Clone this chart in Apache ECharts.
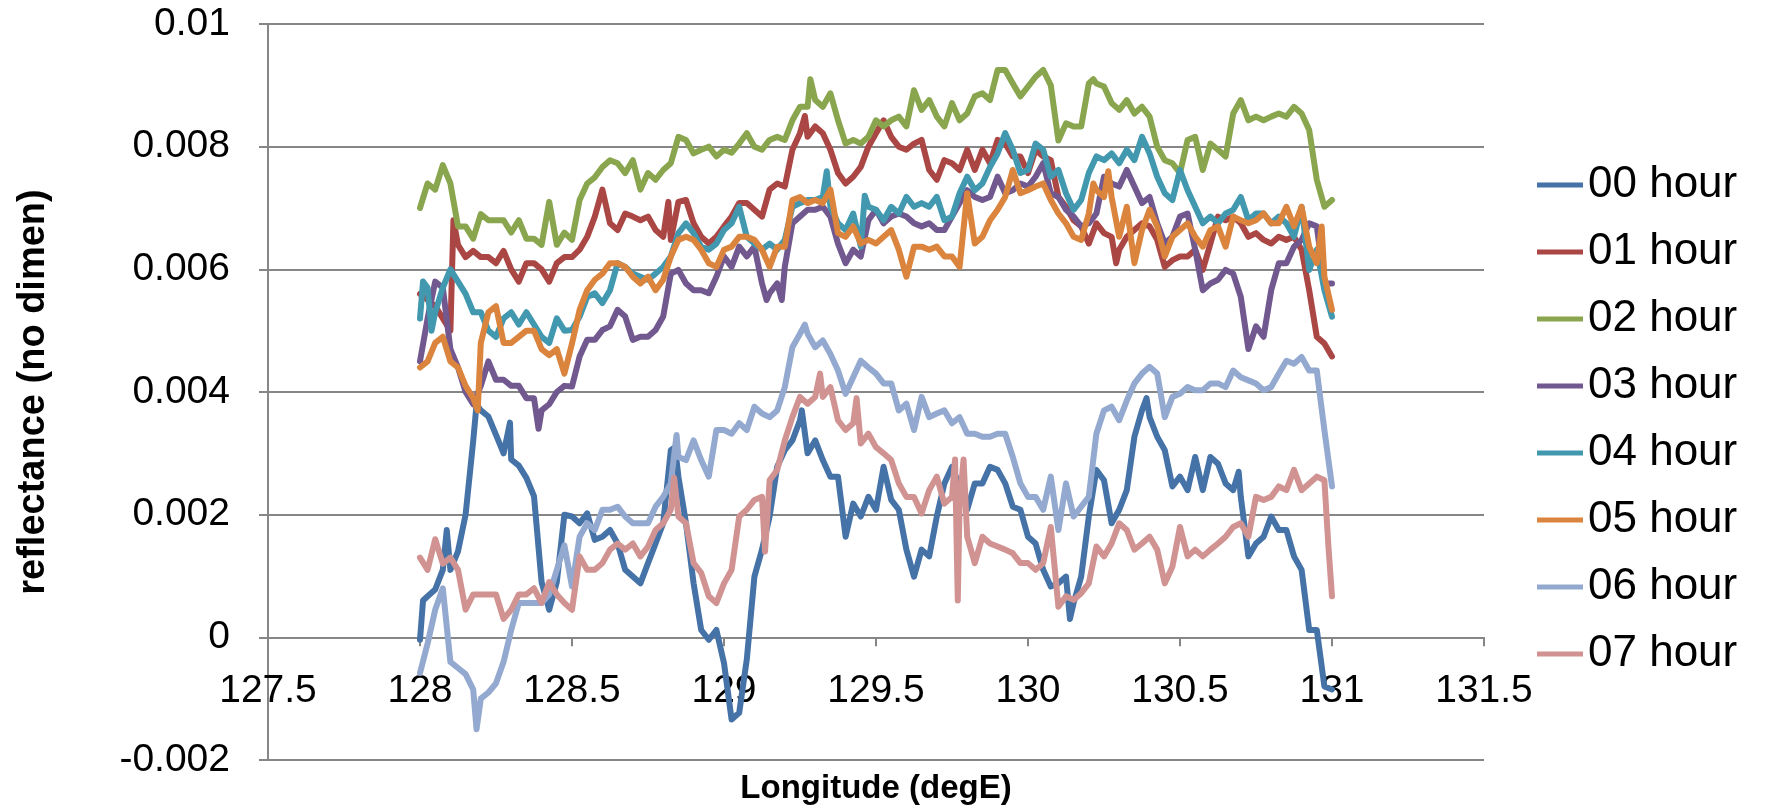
<!DOCTYPE html>
<html>
<head>
<meta charset="utf-8">
<script src="https://cdn.jsdelivr.net/npm/echarts@6/dist/echarts.min.js"></script>
<style>
  html, body { margin: 0; padding: 0; background: #ffffff; }
  #chart { width: 1785px; height: 812px; }
</style>
</head>
<body>
<div id="chart"></div>
<script>
// Sampling longitudes (degE) shared by every hourly track
const longitude = [
  128, 128.025, 128.05, 128.075, 128.1, 128.125, 128.15, 128.175, 128.2, 128.225,
  128.25, 128.275, 128.3, 128.325, 128.35, 128.375, 128.4, 128.425, 128.45, 128.475,
  128.5, 128.525, 128.55, 128.575, 128.6, 128.625, 128.65, 128.675, 128.7, 128.725,
  128.75, 128.775, 128.8, 128.825, 128.85, 128.875, 128.9, 128.925, 128.95, 128.975, 129,
  129.025, 129.05, 129.075, 129.1, 129.125, 129.15, 129.175, 129.2, 129.225, 129.25,
  129.275, 129.3, 129.325, 129.35, 129.375, 129.4, 129.425, 129.45, 129.475, 129.5, 129.525,
  129.55, 129.575, 129.6, 129.625, 129.65, 129.675, 129.7, 129.725, 129.75, 129.775,
  129.8, 129.825, 129.85, 129.875, 129.9, 129.925, 129.95, 129.975, 130, 130.025, 130.05,
  130.075, 130.1, 130.125, 130.15, 130.175, 130.2, 130.225, 130.25, 130.275, 130.3,
  130.325, 130.35, 130.375, 130.4, 130.425, 130.45, 130.475, 130.5, 130.525, 130.55, 130.575,
  130.6, 130.625, 130.65, 130.675, 130.7, 130.725, 130.75, 130.775, 130.8, 130.825,
  130.85, 130.875, 130.9, 130.925, 130.95, 130.975, 131
];

// Reflectance (no dimension) per hour, one value per longitude above
const hour00 = [
  -0.00004, 0.00067, 0.00078, 0.0011, 0.0011, 0.0014, 0.0020, 0.0032, 0.0037, 0.0036,
  0.0033, 0.0030, 0.0029, 0.0028, 0.0026, 0.0023, 0.0009, 0.00045, 0.0009, 0.0020,
  0.00197, 0.00186, 0.00202, 0.00159, 0.00164, 0.00175, 0.00153, 0.0011, 0.00099, 0.00088,
  0.00121, 0.00153, 0.00186, 0.00305, 0.00262, 0.00186, 0.00088, 0.00012, -0.00004, 0.00012, -0.00042,
  -0.00134, -0.00123, -0.00036, 0.00099, 0.00143, 0.00197, 0.00278, 0.00305, 0.00321, 0.00354,
  0.0030, 0.00321, 0.00289, 0.00262, 0.00262, 0.00164, 0.00218, 0.00197, 0.00229, 0.00208, 0.00278,
  0.00224, 0.00208, 0.00143, 0.00099, 0.00143, 0.00132, 0.00197, 0.00251, 0.00278, 0.00246,
  0.00208, 0.00251, 0.00251, 0.00278, 0.00273, 0.00251, 0.00213, 0.00208, 0.00164, 0.00153, 0.0011,
  0.00083, 0.00088, 0.00099, 0.00056, 0.00099, 0.00197, 0.00273, 0.00256, 0.00186, 0.00208,
  0.0024, 0.00327, 0.0037, 0.00359, 0.00327, 0.00305, 0.00246, 0.00262, 0.0024, 0.00294, 0.0024,
  0.00294, 0.00283, 0.00251, 0.0024, 0.00229, 0.00132, 0.00153, 0.00164, 0.00197, 0.00175,
  0.00175, 0.00132, 0.0011, 0.00012, 0.00012, -0.0008, -0.00085
];
const hour01 = [
  0.0056, 0.0055, 0.0054, 0.0052, 0.0050, 0.0064, 0.0062, 0.0063, 0.0062, 0.0062,
  0.0061, 0.0063, 0.0060, 0.0058, 0.0061, 0.0061, 0.0060, 0.0058, 0.0061, 0.0062,
  0.0062, 0.00632, 0.00653, 0.00686, 0.0073, 0.00675, 0.00664, 0.00691, 0.00686, 0.0068,
  0.00686, 0.00664, 0.00653, 0.00648, 0.0071, 0.00713, 0.00675, 0.00653, 0.00642, 0.00653, 0.0067,
  0.00686, 0.00708, 0.00708, 0.00697, 0.00686, 0.0073, 0.0074, 0.00735, 0.00795, 0.00822,
  0.00816, 0.00833, 0.00822, 0.00795, 0.00757, 0.0074, 0.00751, 0.00767, 0.008, 0.00822, 0.00843,
  0.00816, 0.008, 0.00795, 0.00805, 0.00811, 0.00762, 0.00746, 0.00778, 0.00773, 0.00762,
  0.00795, 0.00762, 0.00795, 0.00773, 0.00811, 0.00805, 0.00784, 0.00784, 0.00757, 0.00795, 0.00784,
  0.00778, 0.00718, 0.00702, 0.0068, 0.0067, 0.00642, 0.00675, 0.00659, 0.00653, 0.00632,
  0.00653, 0.00664, 0.00675, 0.0067, 0.00648, 0.00604, 0.00615, 0.00621, 0.00621, 0.00632, 0.00599,
  0.00642, 0.00686, 0.0068, 0.00686, 0.00675, 0.00653, 0.00659, 0.00648, 0.00642, 0.00653,
  0.00648, 0.00653, 0.00632, 0.00566, 0.0049, 0.00479, 0.00458
];
const hour02 = [
  0.0070, 0.0074, 0.0073, 0.0077, 0.0074, 0.0067, 0.0067, 0.0065, 0.0069, 0.0068,
  0.0068, 0.0068, 0.0066, 0.0068, 0.0065, 0.0065, 0.0064, 0.0071, 0.0064, 0.0066,
  0.00648, 0.00713, 0.0074, 0.0075, 0.00767, 0.00778, 0.00773, 0.00757, 0.00778, 0.0073,
  0.00757, 0.00746, 0.00762, 0.00773, 0.00816, 0.00811, 0.00789, 0.00795, 0.008, 0.00784, 0.00795,
  0.0079, 0.00805, 0.00822, 0.008, 0.00795, 0.00811, 0.00816, 0.00811, 0.00843, 0.00865,
  0.00865, 0.00876, 0.00865, 0.00887, 0.00843, 0.00805, 0.00811, 0.00805, 0.00816, 0.00843, 0.00833,
  0.00843, 0.00849, 0.00833, 0.00892, 0.0086, 0.00876, 0.00849, 0.00833, 0.00871, 0.00843,
  0.00854, 0.00882, 0.00887, 0.00876, 0.00925, 0.00925, 0.00903, 0.00882, 0.00898, 0.00914, 0.00925,
  0.0090, 0.0081, 0.00838, 0.00833, 0.00833, 0.00903, 0.00903, 0.00898, 0.00871, 0.0086,
  0.00876, 0.00854, 0.00865, 0.00849, 0.008, 0.00778, 0.00773, 0.00757, 0.00811, 0.00816, 0.00762,
  0.00805, 0.00795, 0.00784, 0.00854, 0.00876, 0.00843, 0.00849, 0.00843, 0.00849, 0.00854,
  0.00849, 0.00865, 0.00854, 0.00827, 0.00746, 0.00702, 0.00713
];
const hour03 = [
  0.0045, 0.0052, 0.0058, 0.0057, 0.0047, 0.0044, 0.0040, 0.0038, 0.0041, 0.0045,
  0.0042, 0.0042, 0.0041, 0.0041, 0.0039, 0.0039, 0.0037, 0.0038, 0.0040, 0.0041,
  0.00409, 0.00458, 0.00485, 0.00485, 0.00501, 0.00507, 0.00534, 0.00523, 0.00485, 0.0049,
  0.0049, 0.00501, 0.00523, 0.00593, 0.00599, 0.00577, 0.00566, 0.00566, 0.00561, 0.00588, 0.00621,
  0.00604, 0.00637, 0.00621, 0.00637, 0.00577, 0.00561, 0.00577, 0.00604, 0.00675, 0.00686,
  0.00697, 0.00697, 0.00702, 0.00686, 0.00642, 0.0061, 0.00632, 0.00621, 0.0068, 0.00697, 0.00675,
  0.00686, 0.00691, 0.00686, 0.00675, 0.0067, 0.00675, 0.00664, 0.00664, 0.00686, 0.00708,
  0.00729, 0.00718, 0.00713, 0.00718, 0.00751, 0.00724, 0.00729, 0.0074, 0.00735, 0.00751, 0.00773,
  0.00724, 0.00718, 0.00697, 0.00686, 0.0067, 0.00675, 0.00691, 0.00751, 0.0074, 0.00735,
  0.00762, 0.00735, 0.00708, 0.00718, 0.00675, 0.00642, 0.00653, 0.00686, 0.00691, 0.00632, 0.00566,
  0.00577, 0.00583, 0.00599, 0.00593, 0.00555, 0.0047, 0.00507, 0.0049, 0.00566, 0.0061,
  0.0061, 0.00637, 0.00648, 0.00675, 0.0067, 0.00577, 0.00577
];
const hour04 = [
  0.0052, 0.0057, 0.0053, 0.0057, 0.0060, 0.0058, 0.0056, 0.0053, 0.0053, 0.0050,
  0.0049, 0.0052, 0.0053, 0.0051, 0.0053, 0.0051, 0.0049, 0.0048, 0.0052, 0.0050,
  0.00501, 0.00523, 0.00555, 0.00561, 0.00545, 0.00566, 0.0061, 0.00604, 0.00593, 0.00588,
  0.00583, 0.00593, 0.00604, 0.00621, 0.00659, 0.00675, 0.00659, 0.00637, 0.00632, 0.00642, 0.00664,
  0.00675, 0.00702, 0.00653, 0.00642, 0.00632, 0.00642, 0.00632, 0.00648, 0.00702, 0.00708,
  0.00713, 0.00713, 0.00718, 0.00702, 0.00675, 0.00664, 0.00691, 0.00637, 0.00702, 0.00697, 0.0068,
  0.00702, 0.00691, 0.00718, 0.00702, 0.00708, 0.00702, 0.00718, 0.0068, 0.00686, 0.00724,
  0.00751, 0.00729, 0.0074, 0.00767, 0.00789, 0.00822, 0.00795, 0.00757, 0.00762, 0.00805, 0.00795,
  0.00751, 0.00762, 0.00724, 0.00697, 0.00713, 0.00757, 0.00784, 0.00778, 0.00789, 0.00773,
  0.00795, 0.00778, 0.00816, 0.00789, 0.00751, 0.00724, 0.00713, 0.00762, 0.00729, 0.00702, 0.00675,
  0.00686, 0.00675, 0.00691, 0.00697, 0.00718, 0.0068, 0.00691, 0.00691, 0.00675, 0.00686,
  0.00675, 0.00653, 0.00702, 0.00599, 0.00632, 0.00566, 0.00523
];
const hour05 = [
  0.0044, 0.0045, 0.0048, 0.0049, 0.0045, 0.0044, 0.0041, 0.0039, 0.0048, 0.0053,
  0.0054, 0.0048, 0.0048, 0.0049, 0.0050, 0.0050, 0.0047, 0.0046, 0.0047, 0.0043,
  0.00479, 0.00534, 0.00566, 0.00583, 0.00593, 0.0061, 0.0061, 0.00604, 0.00588, 0.00577,
  0.00588, 0.00566, 0.00583, 0.00621, 0.00648, 0.00653, 0.00648, 0.00632, 0.0061, 0.00604, 0.00632,
  0.00637, 0.00653, 0.00653, 0.00648, 0.00632, 0.00604, 0.00637, 0.00637, 0.00713, 0.00718,
  0.00708, 0.00713, 0.00708, 0.0073, 0.00659, 0.00653, 0.0067, 0.00642, 0.00648, 0.00642, 0.00653,
  0.00664, 0.00632, 0.00588, 0.00637, 0.00637, 0.00632, 0.00637, 0.00621, 0.00621, 0.00604,
  0.00724, 0.00642, 0.00653, 0.0068, 0.00697, 0.00718, 0.00762, 0.00724, 0.00729, 0.00735, 0.0074,
  0.00713, 0.00691, 0.00675, 0.00653, 0.00648, 0.00691, 0.00729, 0.00718, 0.00718, 0.00653,
  0.00702, 0.0061, 0.00664, 0.00697, 0.0067, 0.00621, 0.00653, 0.00664, 0.00675, 0.00653, 0.00637,
  0.00664, 0.0067, 0.00637, 0.00686, 0.0068, 0.00675, 0.0068, 0.00691, 0.00675, 0.00675,
  0.00702, 0.0067, 0.00702, 0.00637, 0.0061, 0.00588, 0.00534
];
const hour06 = [
  -0.00058, -0.0001, 0.00045, 0.0008, -0.0004, -0.0005, -0.0006, -0.00085, -0.0010, -0.0009,
  -0.00075, -0.0004, 0.00012, 0.00056, 0.00056, 0.00056, 0.00056, 0.0007, 0.0011, 0.0015,
  0.00083, 0.00164, 0.00186, 0.00175, 0.00208, 0.00208, 0.00213, 0.00197, 0.00186, 0.00186,
  0.00186, 0.00213, 0.00229, 0.00251, 0.00294, 0.00289, 0.00321, 0.00289, 0.00262, 0.00338, 0.00338,
  0.00332, 0.00349, 0.00338, 0.00376, 0.00365, 0.00359, 0.0037, 0.00408, 0.00473, 0.00495,
  0.00495, 0.00473, 0.00484, 0.00462, 0.00435, 0.00397, 0.00424, 0.00451, 0.0044, 0.0043, 0.00414,
  0.00414, 0.0037, 0.00381, 0.00338, 0.00392, 0.00359, 0.00365, 0.0037, 0.00349, 0.00359,
  0.00332, 0.00332, 0.00327, 0.00327, 0.00332, 0.00332, 0.00294, 0.00251, 0.00229, 0.00229, 0.00208,
  0.00262, 0.00175, 0.00251, 0.00197, 0.00213, 0.00229, 0.00332, 0.0037, 0.00376, 0.00354,
  0.00386, 0.00414, 0.0043, 0.00441, 0.0043, 0.00359, 0.00392, 0.00397, 0.00408, 0.00403, 0.00403,
  0.00414, 0.00414, 0.00408, 0.00435, 0.00424, 0.00419, 0.00414, 0.00403, 0.00408, 0.0043,
  0.00451, 0.00446, 0.00457, 0.00435, 0.00435, 0.00338, 0.00246
];
const hour07 = [
  0.0013, 0.0011, 0.0016, 0.0012, 0.0013, 0.0011, 0.00045, 0.0007, 0.0007, 0.0007,
  0.0007, 0.0003, 0.00045, 0.0007, 0.0007, 0.0008, 0.00056, 0.0009, 0.0007, 0.00056,
  0.00045, 0.00132, 0.0011, 0.0011, 0.00121, 0.00143, 0.00153, 0.00143, 0.00153, 0.00132,
  0.00148, 0.00175, 0.00186, 0.00208, 0.00197, 0.00186, 0.00121, 0.00105, 0.00067, 0.00056, 0.00088,
  0.0011, 0.00197, 0.00208, 0.00224, 0.00229, 0.00256, 0.00273, 0.00321, 0.00359, 0.00392,
  0.00381, 0.00392, 0.00392, 0.00408, 0.00354, 0.00338, 0.00349, 0.00316, 0.00332, 0.0031, 0.003,
  0.00289, 0.00251, 0.00229, 0.00229, 0.00202, 0.0024, 0.00262, 0.00218, 0.00229, 0.00218,
  0.00164, 0.00121, 0.00164, 0.00153, 0.00148, 0.00143, 0.00137, 0.00121, 0.00121, 0.0011, 0.00121,
  0.0018, 0.0005, 0.00067, 0.00061, 0.00072, 0.00088, 0.00148, 0.00132, 0.00153, 0.00186,
  0.00175, 0.00143, 0.00153, 0.00164, 0.00143, 0.00088, 0.00115, 0.0018, 0.00132, 0.00143, 0.00132,
  0.00143, 0.00153, 0.00164, 0.0018, 0.00186, 0.00164, 0.00229, 0.00224, 0.00229, 0.00246,
  0.0024, 0.00273, 0.0024, 0.00251, 0.00262, 0.00256, 0.00067
];

// Short spikes between the regular samples: [longitude, reflectance]
const spikes00 = [[128.01, 0.0006], [128.088, 0.00175], [128.186, 0.0038], [128.296, 0.0035],
  [128.839, 0.0031], [129.256, 0.0037], [130.138, 0.0003], [130.39, 0.0039], [130.693, 0.0027]];
const spikes01 = [[128.11, 0.0068], [128.817, 0.0071], [129.266, 0.0085], [130.29, 0.0061]];
const spikes02 = [[129.284, 0.0091], [130.215, 0.0091]];
const spikes03 = [[128.39, 0.0034], [129.14, 0.0055], [129.19, 0.0055]];
const spikes04 = [[128.01, 0.0058], [128.038, 0.0050], [129.338, 0.0076], [129.463, 0.0072]];
const spikes05 = [[128.19, 0.0037], [130.215, 0.0074], [130.264, 0.0076], [130.966, 0.0067]];
const spikes06 = [[128.186, -0.0015], [128.844, 0.0033], [129.266, 0.0051]];
const spikes07 = [[128.836, 0.0026], [129.135, 0.0014], [129.316, 0.0043], [129.436, 0.0039],
  [129.76, 0.0029], [129.769, 0.0006], [129.788, 0.0029], [130.988, 0.0015]];

const seriesNames = ['00 hour', '01 hour', '02 hour', '03 hour', '04 hour', '05 hour', '06 hour', '07 hour'];
const seriesValues = [hour00, hour01, hour02, hour03, hour04, hour05, hour06, hour07];
const seriesSpikes = [spikes00, spikes01, spikes02, spikes03, spikes04, spikes05, spikes06, spikes07];
const seriesColors = ['#4572A7', '#AA4643', '#89A54E', '#71588F', '#4198AF', '#DB843D', '#93A9CF', '#D19392'];

const xMin = 127.5, xMax = 131.5, xStep = 0.5;
const yMin = -0.002, yMax = 0.01, yStep = 0.002;

const labelFont = "'Liberation Sans', Arial, sans-serif";
const gridGray = '#868686';
const gridBox = { left: 268, right: 301, top: 24, bottom: 52 };

// The longitude axis sits on the zero line: shift it up from the bottom of the plot
const plotHeight = 812 - gridBox.top - gridBox.bottom;
const zeroOffset = -plotHeight * (0 - yMin) / (yMax - yMin);

function track(values, spikes) {
  const pts = longitude.map((lon, i) => [lon, values[i]]);
  return pts.concat(spikes).sort((a, b) => a[0] - b[0]);
}

const chart = echarts.init(document.getElementById('chart'), null, { renderer: 'canvas' });

chart.setOption({
  animation: false,
  backgroundColor: '#ffffff',
  grid: Object.assign({ containLabel: false }, gridBox),
  xAxis: {
    type: 'value',
    min: xMin,
    max: xMax,
    interval: xStep,
    offset: zeroOffset,
    axisLine: { show: true, onZero: false, lineStyle: { color: gridGray, width: 2 } },
    axisTick: { show: true, length: 9, lineStyle: { color: gridGray, width: 2 } },
    axisLabel: { color: '#000', fontSize: 39, fontFamily: labelFont, margin: 34 },
    splitLine: { show: false }
  },
  yAxis: {
    type: 'value',
    min: yMin,
    max: yMax,
    interval: yStep,
    axisLine: { show: true, lineStyle: { color: gridGray, width: 2 } },
    axisTick: { show: true, length: 9, lineStyle: { color: gridGray, width: 2 } },
    axisLabel: { color: '#000', fontSize: 39, fontFamily: labelFont, margin: 38 },
    splitLine: { show: true, lineStyle: { color: gridGray, width: 2 } }
  },
  legend: {
    orient: 'vertical',
    left: 1532,
    top: 156,
    itemWidth: 46,
    itemHeight: 5,
    itemGap: 19,
    icon: 'rect',
    data: seriesNames,
    textStyle: { color: '#000', fontSize: 44, fontFamily: labelFont, lineHeight: 48 }
  },
  graphic: [
    {
      type: 'text',
      x: 34,
      y: 392,
      rotation: Math.PI / 2,
      style: {
        text: 'reflectance (no dimen)',
        font: "bold 38px 'Liberation Sans', Arial, sans-serif",
        fill: '#000',
        textAlign: 'center',
        textVerticalAlign: 'middle'
      }
    },
    {
      type: 'text',
      x: 876,
      y: 789,
      style: {
        text: 'Longitude (degE)',
        font: "bold 33px 'Liberation Sans', Arial, sans-serif",
        fill: '#000',
        textAlign: 'center',
        textVerticalAlign: 'middle'
      }
    }
  ],
  series: seriesNames.map((name, i) => ({
    name: name,
    type: 'line',
    data: track(seriesValues[i], seriesSpikes[i]),
    showSymbol: false,
    symbol: 'none',
    color: seriesColors[i],
    lineStyle: { color: seriesColors[i], width: 6, join: 'round', cap: 'round' },
    emphasis: { disabled: true }
  }))
});
</script>
</body>
</html>
